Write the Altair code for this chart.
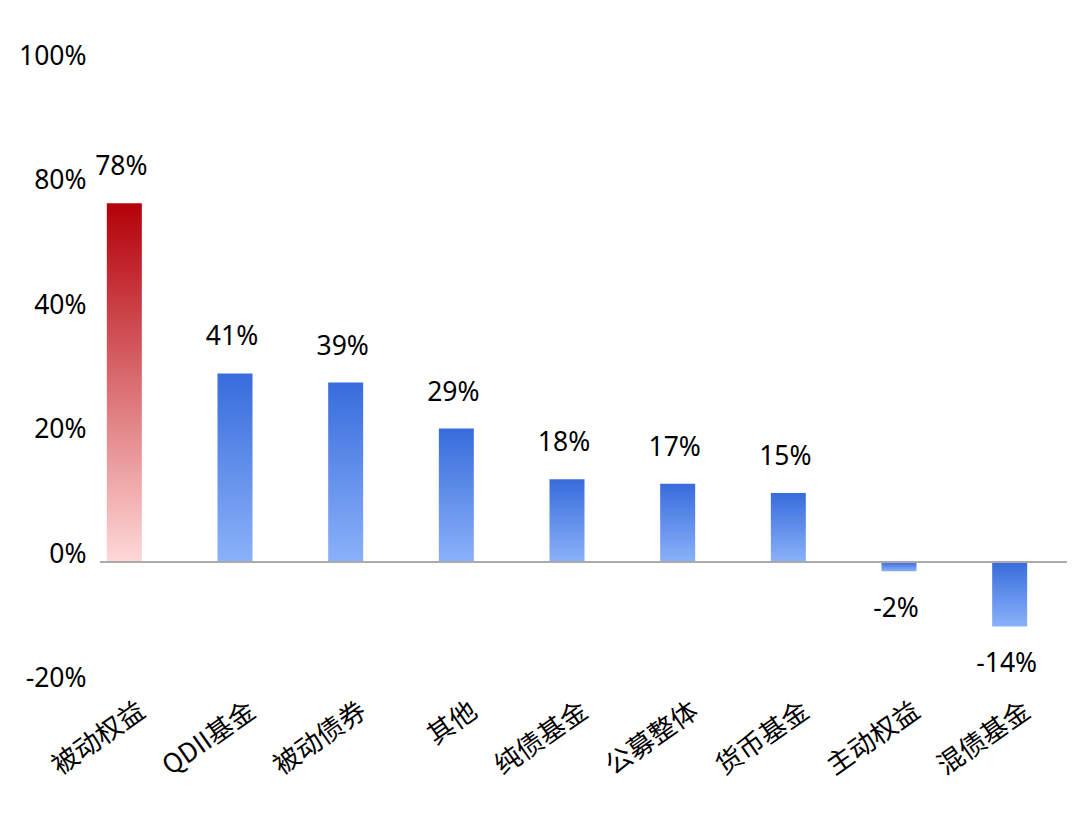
import altair as alt
import pandas as pd

categories = ["被动权益", "QDII基金", "被动债券", "其他", "纯债基金", "公募整体", "货币基金", "主动权益", "混债基金"]
values = [78, 41, 39, 29, 18, 17, 15, -2, -14]
highlight = ["被动权益"]

# the axis in the source is not evenly labelled: ticks sit every ~27 units
tick_values = [-27.04, 0, 27.04, 54.08, 81.12, 108.16]
tick_labels = ["-20%", "0%", "20%", "40%", "80%", "100%"]

FONT = "Noto Sans CJK SC"
NUM_FONT = "Noto Sans"
FS = 26.5

df = pd.DataFrame({"cat": categories, "value": values})
df["label"] = df["value"].map(lambda v: f"{v}%")

red_grad = alt.LinearGradient(
    gradient="linear", x1=0, y1=0, x2=0, y2=1,
    stops=[alt.GradientStop(color="#b40008", offset=0), alt.GradientStop(color="#ffd8d8", offset=1)],
)
blue_grad = alt.LinearGradient(
    gradient="linear", x1=0, y1=0, x2=0, y2=1,
    stops=[alt.GradientStop(color="#386cdc", offset=0), alt.GradientStop(color="#8ab1f9", offset=1)],
)

label_expr = "{" + ", ".join(f"'{v}': '{t}'" for v, t in zip(tick_values, tick_labels)) + "}[datum.value + '']"

x = alt.X(
    "cat:N", sort=categories, title=None,
    scale=alt.Scale(paddingInner=0, paddingOuter=0),
    axis=alt.Axis(
        labelAngle=-35, labelAlign="right", labelBaseline="middle", labelFont=FONT,
        labelFontSize=FS, labelColor="#000", labelPadding=8, labelOffset=18,
        labelLimit=300, ticks=False, domain=False,
    ),
)
y = alt.Y(
    "value:Q", title=None,
    scale=alt.Scale(domain=[-30, 110], nice=False, zero=True),
    axis=alt.Axis(
        values=tick_values, labelExpr=label_expr, grid=False, domain=False, ticks=False, tickSize=0,
        labelFont=NUM_FONT, labelFontSize=FS, labelColor="#000", labelPadding=-17, labelOffset=-8,
    ),
)

base = alt.Chart(df)
is_hl = alt.FieldOneOfPredicate(field="cat", oneOf=highlight)

bars_hl = base.transform_filter(is_hl).mark_bar(color=red_grad, size=35).encode(x=x, y=y)
bars = base.transform_filter(~alt.FieldOneOfPredicate(field="cat", oneOf=highlight)).mark_bar(
    color=blue_grad, size=35
).encode(x=x, y=y)

zero_line = alt.Chart(pd.DataFrame({"z": [0]})).mark_rule(color="#aaaaaa", strokeWidth=2).encode(
    y="z:Q", x=alt.value(31), x2=alt.value(998)
)

pos_text = base.transform_filter("datum.value >= 0").mark_text(
    font=NUM_FONT, fontSize=FS, color="#000", baseline="middle", dy=-36, dx=-3
).encode(x=x, y=y, text="label:N")
neg_text = base.transform_filter("datum.value < 0").mark_text(
    font=NUM_FONT, fontSize=FS, color="#000", baseline="middle", dy=38, dx=-3
).encode(x=x, y=y, text="label:N")

chart = (
    alt.layer(bars_hl, bars, zero_line, pos_text, neg_text)
    .properties(
        width=996, height=644,
        autosize=alt.AutoSizeParams(type="none"),
        padding={"left": 61, "top": 48, "right": 4, "bottom": 110},
    )
    .configure_view(stroke=None)
)

chart.save("out.html", embed_options={"renderer": "svg", "actions": False})
